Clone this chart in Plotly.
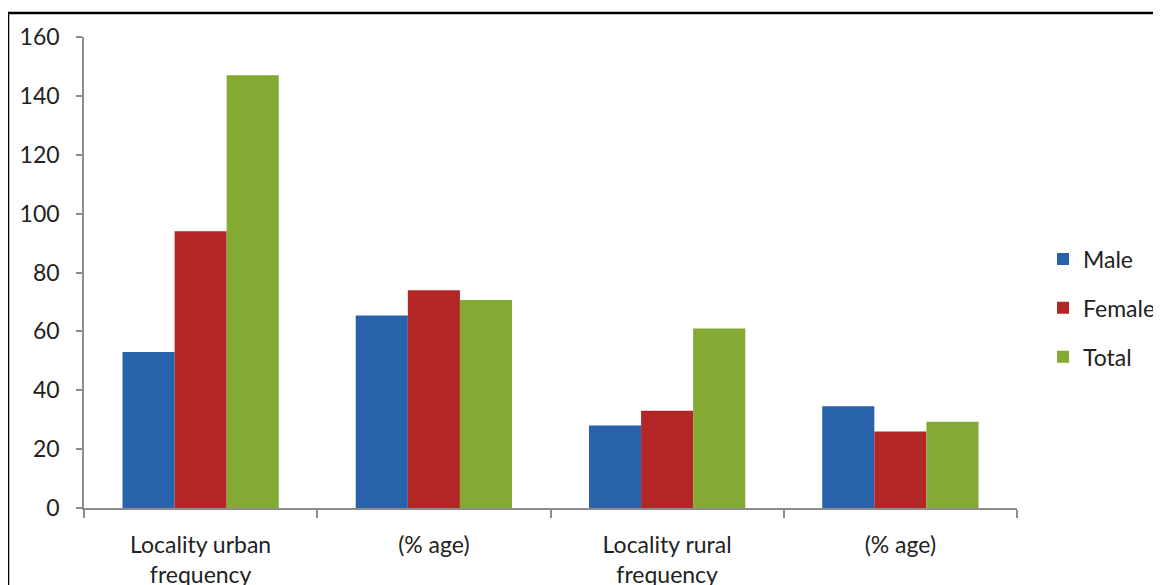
import plotly.graph_objects as go

categories = ["Locality urban<br>frequency", "(% age)", "Locality rural<br>frequency", "(% age)"]
male = [53, 65.4, 28, 34.6]
female = [94, 74.0, 33, 26.0]
total = [147, 70.7, 61, 29.3]
series_names = ["Male", "Female", "Total"]
colors = ["#2862AB", "#B22626", "#84AA33"]

x_pos = list(range(len(categories)))

fig = go.Figure()
for name, vals, col in zip(series_names, [male, female, total], colors):
    fig.add_trace(go.Bar(x=x_pos, y=vals, name=name, marker=dict(color=col, line=dict(width=0)),
                         legendgroup=name))

# page body has an 8px default margin; compensate
OFF = 8
W, H = 1161 - OFF, 585 - OFF
ml, mt = 84 - OFF, 37 - OFF
pw = 1017 - 84
ph = 508 - 37
mr = W - ml - pw
mb = H - mt - ph

fig.update_layout(
    width=W, height=H,
    margin=dict(l=ml, r=mr, t=mt, b=mb, pad=0, autoexpand=False),
    paper_bgcolor="white", plot_bgcolor="white",
    barmode="group", bargap=0.33, bargroupgap=0,
    font=dict(family="Lato, Open Sans, sans-serif", size=23, color="#222222"),
    showlegend=True,
    legend=dict(x=(1043 - 84) / pw, y=(508 - 308) / ph, xanchor="left", yanchor="middle",
                font=dict(size=23), tracegroupgap=16, bgcolor="rgba(0,0,0,0)"),
    xaxis=dict(
        range=[-0.5, 3.5], tickmode="array", tickvals=x_pos, ticktext=categories,
        ticks="", ticklabelstandoff=16, showline=True, linecolor="#8c8c8c", linewidth=1.5,
        showgrid=False, zeroline=False, tickfont=dict(size=23),
        minor=dict(tickmode="array", tickvals=[-0.5, 0.5, 1.5, 2.5, 3.5], ticks="outside",
                   ticklen=8, tickcolor="#8c8c8c", tickwidth=1.5, showgrid=False),
    ),
    yaxis=dict(
        range=[0, 160], tickmode="linear", tick0=0, dtick=20, ticks="outside", ticklen=6,
        ticklabelstandoff=12,
        tickcolor="#8c8c8c", tickwidth=1.5, showline=True, linecolor="#8c8c8c", linewidth=1.5,
        showgrid=False, zeroline=False, tickfont=dict(size=23),
    ),
    shapes=[dict(type="rect", xref="paper", yref="paper",
                 x0=(8 - 84) / pw, x1=(1175 - 84) / pw,
                 y0=(508 - 600) / ph, y1=(508 - 13) / ph,
                 line=dict(color="black", width=2.5), fillcolor="rgba(0,0,0,0)", layer="below")],
)

fig.write_html("out.html")
